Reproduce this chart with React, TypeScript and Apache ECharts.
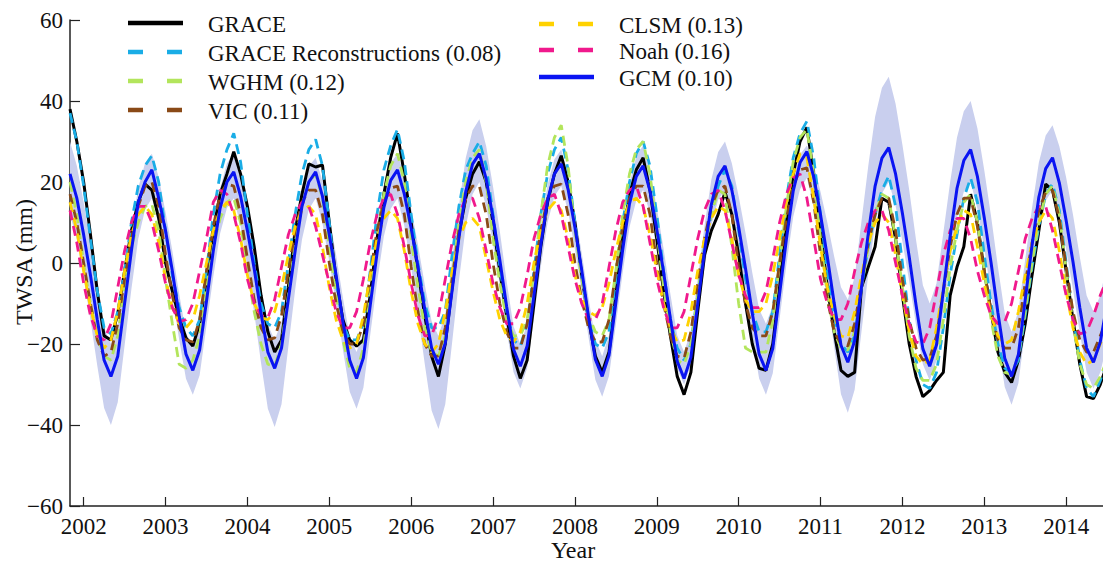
import React, { useEffect, useRef } from "react";
import * as echarts from "echarts";

// Monthly samples, first one = Nov 2001
const START = 2001 + 10 / 12;
const X_MAX = 2014.45;
const yearTicks = [2002, 2003, 2004, 2005, 2006, 2007, 2008, 2009, 2010, 2011, 2012, 2013, 2014];

const grace = [
  38, 30,
  20, 7, -7, -18, -19, -12.5, -2, 8, 15, 19.5, 18, 11,
  0, -7, -13.5, -18.5, -20.5, -15, -4, 8, 17, 22, 27.5, 22,
  14, 4, -8, -17, -22, -19, -6, 8, 17, 24.5, 23.7, 24.2,
  10, -4, -14, -19, -20.5, -19, -8, 6, 17, 26, 32, 22,
  10, -2, -13, -23, -28, -20, -6, 7, 16, 22, 25, 20,
  10, -2, -13, -23, -28.5, -24, -10, 4, 15, 22, 26.5, 20,
  10, -3, -14, -23, -27, -22, -8, 6, 17, 23, 26, 18,
  6, -7, -18, -28, -32.5, -27, -12, 2, 8, 12, 17.5, 12,
  2, -10, -20, -26, -26.5, -20, -6, 10, 22, 30, 33.5, 22,
  8, -6, -17, -26.5, -28, -27, -6, -1, 4, 16, 15, 6,
  -8, -20, -28, -33, -31.5, -29, -27, -8, -1, 4, 17, 10,
  -2, -12, -22, -27, -29.5, -24, -15, -3, 8, 19.5, 18, 10,
  -2, -14, -25, -33, -33.5, -30, -25,
];

const recon = [
  37, 30,
  19, 6, -7, -16, -17.5, -12, -2, 10, 19, 24, 26.5, 20,
  8, -3, -11, -16, -18, -14, -2, 12, 22, 28, 32, 25,
  12, 0, -10, -15, -16, -12, 0, 12, 22, 28, 30.5, 24,
  10, -5, -15, -19, -19, -15, -2, 12, 23, 29, 33, 25,
  12, 0, -10, -16, -16, -12, 2, 14, 23, 27, 30, 24,
  12, -1, -12, -19, -20.5, -15, -2, 12, 22, 28, 31, 23,
  10, -3, -14, -20, -21, -17, -4, 10, 20, 27, 30, 24,
  12, -2, -14, -21, -24, -20, -8, 4, 12, 19, 23, 19,
  8, -4, -12, -17, -17, -12, 2, 16, 26, 32, 35, 26,
  12, -2, -13, -20, -22, -18, -6, 4, 12, 18, 21.5, 14,
  0, -14, -24, -30, -31, -27, -16, -3, 7, 16, 21, 15,
  2, -10, -20, -26, -27, -24, -13, -1, 9, 17, 19.5, 13,
  0, -13, -24, -31, -33, -29, -24,
];

const wghm = [
  20, 12,
  0, -10, -18, -23, -24, -18, -6, 4, 10, 14, 14.5, 8,
  -4, -15, -25, -26, -24, -18, -6, 4, 11, 15, 16, 10,
  -2, -12, -20, -25, -25.5, -20, -8, 5, 14, 20, 22, 16,
  4, -8, -19, -26, -27, -21, -8, 6, 17, 24, 27, 20,
  6, -6, -16, -22, -23, -18, -4, 10, 20, 26, 28, 20,
  6, -5, -14, -18, -18, -14, -2, 12, 24, 31, 34, 24,
  8, -4, -13, -17, -18, -14, -2, 12, 22, 28, 30, 22,
  8, -6, -17, -24, -25, -20, -8, 4, 12, 18, 17, 4,
  -10, -21, -22, -22, -22, -14, 0, 14, 25, 31, 33, 22,
  6, -8, -17, -21, -21.5, -17, -6, 4, 12, 17, 16, 6,
  -6, -18, -26, -29, -29, -25, -14, -1, 8, 15, 17, 10,
  -2, -14, -23, -27, -27.5, -23, -12, 0, 10, 17, 19, 12,
  -2, -15, -25, -30, -31, -28, -24,
];

const vic = [
  17, 10,
  0, -10, -19, -23, -22, -15, -4, 6, 14, 19, 20, 14,
  2, -8, -16, -19, -19.5, -14, -2, 9, 17, 19.5, 19, 12,
  1, -9, -16, -19, -18.5, -13, -2, 8, 15, 18, 18, 12,
  0, -10, -17, -20, -20, -15, -3, 8, 15, 18.5, 19, 12,
  -1, -12, -20, -23, -23, -16, -4, 8, 16, 19, 19, 12,
  0, -10, -17, -21, -21, -15, -3, 8, 16, 19, 19.5, 12,
  0, -9, -16, -19.5, -19.5, -14, -2, 9, 16, 19, 19, 12,
  0, -10, -18, -23, -23.5, -17, -5, 6, 14, 18, 19, 12,
  -1, -10, -16, -18, -18, -12, 0, 11, 19, 23, 23.5, 15,
  2, -9, -17, -20, -20.5, -15, -5, 5, 12, 16, 16, 8,
  -4, -14, -21, -24, -23.5, -18, -7, 4, 12, 16, 16, 9,
  -2, -12, -19, -21, -21, -16, -5, 5, 13, 17.5, 18, 11,
  -1, -12, -19, -22, -22, -18, -14,
];

const clsm = [
  15, 8,
  -2, -11, -18, -21, -19, -12, -2, 7, 12, 14, 12, 5,
  -4, -11, -15, -16, -14, -8, 0, 8, 13, 15, 13, 6,
  -3, -10, -13.5, -14, -12, -6, 2, 9, 13, 14, 12, 4,
  -6, -14, -19, -21, -20, -13, -3, 6, 11, 13, 11, 3,
  -7, -15, -20, -22, -20, -12, -2, 6, 10, 11, 9, 1,
  -7, -14, -18, -19.5, -17, -10, 0, 8, 13, 15, 13, 6,
  -3, -9, -12, -13, -11, -5, 3, 10, 15, 16, 14, 7,
  -2, -10, -16, -19.5, -19, -12, -2, 6, 11, 14, 13, 6,
  -3, -9, -12, -12, -10, -3, 6, 15, 22, 27, 26, 16,
  4, -6, -13, -18, -18.5, -12, -3, 5, 10, 12, 10, 2,
  -8, -17, -23, -25, -24, -16, -6, 3, 9, 13, 12, 4,
  -5, -13, -18, -20, -19, -12, -3, 5, 10, 13, 11, 3,
  -7, -16, -22, -25, -24, -20, -16,
];

const noah = [
  13, 5,
  -5, -13, -18, -19, -15, -6, 3, 10, 14, 14, 10, 3,
  -5, -11, -14.5, -14, -10, -2, 6, 15, 18, 17, 12, 5,
  -4, -10, -13, -13.5, -9, -1, 7, 12, 15, 14, 9, 2,
  -5, -12, -16, -16, -12, -4, 5, 12, 16, 17, 12, 4,
  -5, -13, -18, -18, -13, -4, 5, 12, 16, 16, 11, 3,
  -5, -11, -15, -15, -11, -3, 6, 12, 16, 17, 12, 4,
  -4, -10, -14, -14, -10, -1, 8, 15, 18, 19, 14, 5,
  -4, -11, -16, -16, -12, -3, 6, 13, 17, 18, 13, 5,
  -3, -8, -11, -11, -7, 1, 10, 17, 21, 22, 16, 6,
  -4, -10, -14, -14, -10, -2, 5, 10, 13, 13, 8, 0,
  -8, -15, -19.5, -20, -16, -7, 2, 8, 11, 11, 6, -2,
  -8, -13, -15, -14.5, -10, -2, 6, 11, 14, 14, 8, 0,
  -8, -14, -17.5, -17, -13, -8, -4,
];

const gcm = [
  22, 16,
  7, -3, -14, -24, -28, -23, -10, 3, 15, 20, 23, 16,
  8, -2, -13, -22.5, -26.5, -21.5, -9.5, 3, 13.5, 20, 22.5, 16.5,
  8, -1.5, -12.5, -22, -26, -21, -9, 3, 14, 20, 22.5, 16.5,
  7, -3, -14.5, -24, -28.5, -23.4, -10.5, 2.4, 13.7, 20.4, 23, 17,
  8.6, -1, -11.5, -21, -25, -19.8, -6.8, 6.2, 17.6, 24.4, 27, 20.7,
  11.2, 0.7, -10.8, -21.3, -25.5, -20.5, -8, 4.5, 15.5, 22, 24.5, 18.2,
  8.8, -1.8, -13.3, -23.8, -28, -22.8, -9.8, 3.2, 14.6, 21.4, 24, 17.8,
  8.3, -2.3, -13.8, -24.3, -28.5, -23.3, -10.1, 3, 14.5, 21.4, 24, 18,
  8.9, -1.3, -12.4, -22.5, -26.5, -21.1, -7.6, 5.9, 17.8, 24.8, 27.5, 21.3,
  11.9, 1.5, -9.9, -20.3, -24.5, -19.2, -6, 7.3, 19, 25.9, 28.5, 22,
  12.3, 1.5, -10.4, -21.2, -25.5, -20.2, -6.8, 6.6, 18.4, 25.3, 28, 21.3,
  11.2, 0, -12.3, -23.5, -28, -22.6, -9.1, 4.4, 16.3, 23.3, 26, 19.8,
  10.5, 0.3, -11, -21, -24.5, -19.5, -10,
];

const gcmUpper = [
  30, 24,
  15, 5, -6, -16, -20, -15.3, -3.6, 8.2, 18.5, 24.7, 27, 21.2,
  12.6, 3, -7.6, -17.2, -21, -16.2, -4.2, 7.8, 18.4, 24.6, 27, 21.5,
  13.2, 4, -6.1, -15.3, -19, -14.5, -3.3, 8, 17.9, 23.8, 26, 20.2,
  11.6, 2, -8.6, -18.2, -22, -17.1, -4.9, 7.4, 18.2, 24.6, 27, 21.6,
  13.5, 4.5, -5.4, -14.4, -18, -12.7, 0.7, 14.1, 25.9, 32.8, 35.5, 28.8,
  18.9, 7.8, -4.5, -15.6, -20, -15.2, -3.2, 8.8, 19.4, 25.6, 28, 21.9,
  12.7, 2.5, -8.7, -18.9, -23, -17.8, -4.8, 8.2, 19.6, 26.4, 29, 22.9,
  13.7, 3.5, -7.7, -17.9, -22, -16.8, -3.8, 9.2, 20.6, 27.4, 30, 24.6,
  16.5, 7.5, -2.4, -11.4, -15, -10.6, 0.4, 11.4, 21.1, 26.8, 29, 24.4,
  17.6, 10, 1.6, -6, -9, -3.5, 10.3, 24, 36.1, 43.3, 46, 39.3,
  29.2, 18, 5.7, -5.5, -10, -5, 7.5, 20, 31, 37.5, 40, 33.2,
  22.9, 11.5, -1, -12.4, -17, -11.9, 0.9, 13.6, 24.8, 31.5, 34, 28.8,
  21.1, 12, 1.5, -8, -12, -8, 0,
];

const gcmLower = [
  12, 5.8,
  -3.6, -14, -25.4, -35.8, -40, -34.4, -20.4, -6.4, 5.9, 13.2, 16, 10.2,
  1.5, -8.3, -18.9, -28.6, -32.5, -27.7, -15.5, -3.4, 7.3, 13.6, 16, 9.2,
  -1, -12.3, -24.7, -36, -40.5, -34.9, -20.7, -6.6, 5.8, 13.2, 16, 9.8,
  0.4, -10, -21.4, -31.8, -36, -30.8, -17.8, -4.8, 6.6, 13.4, 16, 9.2,
  -1.1, -12.5, -25, -36.4, -41, -34.9, -19.7, -4.4, 9, 17, 20, 13.9,
  4.7, -5.5, -16.7, -26.9, -31, -26, -13.5, -1, 10, 16.5, 19, 12.8,
  3.4, -7, -18.4, -28.8, -33, -27.9, -15.2, -2.4, 8.8, 15.5, 18, 12.2,
  3.6, -6, -16.6, -26.2, -30, -25.2, -13.2, -1.2, 9.4, 15.6, 18, 11.9,
  2.9, -7.3, -18.4, -28.5, -32.5, -27.2, -13.8, -0.4, 11.4, 18.3, 21, 14,
  3.6, -8, -20.8, -32.4, -37, -31.3, -17, -2.8, 9.7, 17.2, 20, 14.1,
  5.3, -4.5, -15.3, -25, -29, -24.1, -11.9, 0.4, 11.2, 17.6, 20, 13.4,
  3.5, -7.5, -19.6, -30.6, -35, -29.7, -16.5, -3.2, 8.5, 15.4, 18, 12.1,
  3.3, -6.5, -17.3, -27, -31, -27, -20,
];

const legendNames = [
  "GRACE",
  "GRACE Reconstructions (0.08)",
  "WGHM (0.12)",
  "VIC (0.11)",
  "CLSM (0.13)",
  "Noah (0.16)",
  "GCM (0.10)",
];

const COLORS = {
  grace: "#000000",
  recon: "#1aade6",
  wghm: "#b3e55c",
  vic: "#8a4a17",
  clsm: "#ffd200",
  noah: "#f0198c",
  gcm: "#0a14f2",
  band: "#c9cfee",
};

const FONT = "Liberation Serif";

function pairs(vals: number[]) {
  return vals.map((v, i) => [START + i / 12, v]);
}

export default function App() {
  const ref = useRef<HTMLDivElement>(null);

  useEffect(() => {
    document.body.style.margin = "0";
    if (!ref.current) return;
    const chart = echarts.init(ref.current, undefined, { renderer: "svg" });

    const DASH = [10, 6];
    const lineSeries = (name: string, data: number[], color: string, dashed: boolean) => ({
      name,
      type: "line",
      data: pairs(data),
      symbol: "none",
      silent: true,
      lineStyle: { color, width: dashed ? 2.8 : 3, type: dashed ? DASH : "solid" },
      z: 3,
    });

    const legendRows = [
      { name: legendNames[0], color: COLORS.grace, dashed: false, x: 128, y: 23 },
      { name: legendNames[1], color: COLORS.recon, dashed: true, x: 128, y: 52 },
      { name: legendNames[2], color: COLORS.wghm, dashed: true, x: 128, y: 81 },
      { name: legendNames[3], color: COLORS.vic, dashed: true, x: 128, y: 110 },
      { name: legendNames[4], color: COLORS.clsm, dashed: true, x: 539, y: 24 },
      { name: legendNames[5], color: COLORS.noah, dashed: true, x: 539, y: 50 },
      { name: legendNames[6], color: COLORS.gcm, dashed: false, x: 539, y: 77 },
    ];

    const legendGraphics: any[] = [];
    legendRows.forEach((r) => {
      legendGraphics.push({
        type: "line",
        shape: { x1: r.x, y1: r.y, x2: r.x + 55, y2: r.y },
        style: {
          stroke: r.color,
          lineWidth: 4.5,
          lineDash: r.dashed ? [15, 24] : null,
        },
        z: 10,
      });
      legendGraphics.push({
        type: "text",
        x: r.x + 80,
        y: r.y + 1,
        style: {
          text: r.name,
          fill: "#111",
          fontFamily: FONT,
          fontSize: 23,
          textAlign: "left",
          textVerticalAlign: "middle",
        },
        z: 10,
      });
    });

    const option: any = {
      animation: false,
      backgroundColor: "#ffffff",
      textStyle: { fontFamily: FONT },
      grid: { left: 70, top: 20, right: 0, bottom: 56, containLabel: false },
      xAxis: {
        type: "value",
        min: START,
        max: X_MAX,
        axisLine: { show: true, onZero: false, lineStyle: { color: "#222", width: 1.5 } },
        axisTick: {
          show: true,
          inside: true,
          length: 9,
          customValues: yearTicks,
          lineStyle: { color: "#222", width: 1.2 },
        },
        axisLabel: {
          customValues: yearTicks,
          formatter: (v: number) => String(Math.round(v)),
          color: "#111",
          fontSize: 23,
          fontFamily: FONT,
          margin: 9,
        },
        splitLine: { show: false },
      },
      yAxis: {
        type: "value",
        min: -60,
        max: 60,
        interval: 20,
        axisLine: { show: true, onZero: false, lineStyle: { color: "#222", width: 1.5 } },
        axisTick: { show: true, inside: true, length: 10, lineStyle: { color: "#222", width: 1.2 } },
        axisLabel: {
          formatter: (v: number) => String(v).replace("-", "\u2212"),
          color: "#111",
          fontSize: 23,
          fontFamily: FONT,
          margin: 7,
        },
        splitLine: { show: false },
      },
      graphic: [
        {
          type: "text",
          x: 24,
          y: 262,
          rotation: Math.PI / 2,
          style: {
            text: "TWSA (mm)",
            fill: "#111",
            fontFamily: FONT,
            fontSize: 24,
            textAlign: "center",
            textVerticalAlign: "middle",
          },
        },
        {
          type: "text",
          x: 573,
          y: 550,
          style: {
            text: "Year",
            fill: "#111",
            fontFamily: FONT,
            fontSize: 24,
            textAlign: "center",
            textVerticalAlign: "middle",
          },
        },
        ...legendGraphics,
      ],
      series: [
        {
          name: "GCM range",
          type: "custom",
          silent: true,
          clip: true,
          z: 1,
          data: [[START, 0]],
          renderItem: (_params: any, api: any) => {
            const pts: number[][] = [];
            for (let i = 0; i < gcmUpper.length; i++) {
              pts.push(api.coord([START + i / 12, gcmUpper[i]]));
            }
            for (let i = gcmLower.length - 1; i >= 0; i--) {
              pts.push(api.coord([START + i / 12, gcmLower[i]]));
            }
            return {
              type: "polygon",
              shape: { points: pts },
              style: { fill: COLORS.band, stroke: null },
            };
          },
        },
        lineSeries(legendNames[0], grace, COLORS.grace, false),
        lineSeries(legendNames[1], recon, COLORS.recon, true),
        lineSeries(legendNames[2], wghm, COLORS.wghm, true),
        lineSeries(legendNames[3], vic, COLORS.vic, true),
        lineSeries(legendNames[4], clsm, COLORS.clsm, true),
        lineSeries(legendNames[5], noah, COLORS.noah, true),
        lineSeries(legendNames[6], gcm, COLORS.gcm, false),
      ],
    };

    chart.setOption(option);
    return () => chart.dispose();
  }, []);

  return <div ref={ref} style={{ width: 1103, height: 562 }} />;
}
